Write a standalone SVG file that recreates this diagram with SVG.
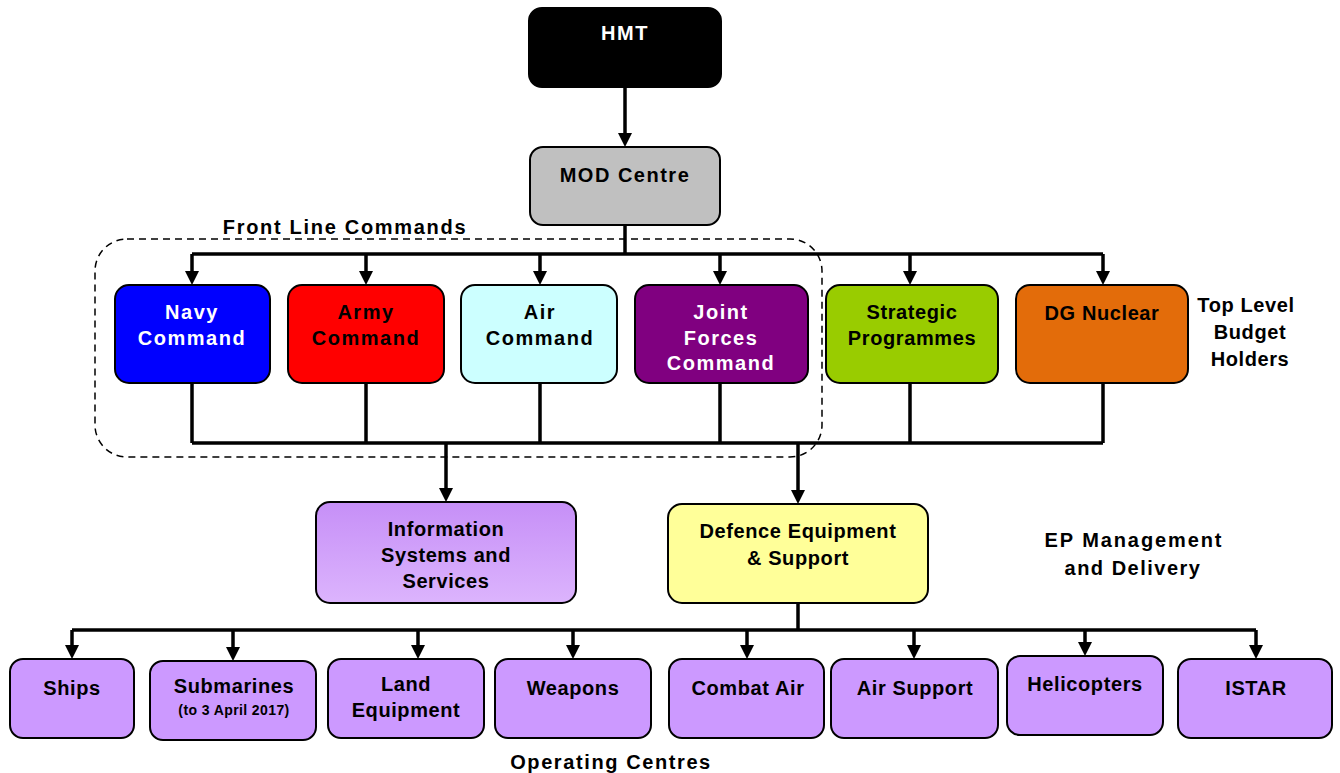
<svg xmlns="http://www.w3.org/2000/svg" width="1340" height="773" viewBox="0 0 1340 773">
<defs>
<marker id="ah" markerUnits="userSpaceOnUse" markerWidth="16" markerHeight="14" refX="2" refY="7" orient="auto">
<path d="M0,0 L14,7 L0,14 z" fill="#000"/>
</marker>
<linearGradient id="issg" x1="0" y1="0" x2="0" y2="1">
<stop offset="0" stop-color="#c68ff7"/>
<stop offset="1" stop-color="#dcb4fd"/>
</linearGradient>
</defs>
<style>
.box{stroke:#000;stroke-width:2}
.t{font-family:"Liberation Sans",Arial,sans-serif;font-weight:bold;font-size:20px;text-anchor:middle;letter-spacing:1.5px}
.n{letter-spacing:0.6px}
.w{fill:#fff}
.s{font-size:14px;letter-spacing:0.4px}
.c{fill:none;stroke:#000;stroke-width:3.5}
.a{marker-end:url(#ah)}
.dash{fill:none;stroke:#000;stroke-width:1.5;stroke-dasharray:7,5}
</style>
<rect class="dash" x="95" y="239" width="727" height="218" rx="32"/>
<g id="connectors">
<path class="c a" d="M625,87 V135"/>
<path class="c" d="M625,225 V254"/>
<path class="c" d="M192,254 H1103"/>
<path class="c a" d="M192,254 V273"/>
<path class="c a" d="M366,254 V273"/>
<path class="c a" d="M540,254 V273"/>
<path class="c a" d="M720,254 V273"/>
<path class="c a" d="M910,254 V273"/>
<path class="c a" d="M1103,254 V273"/>
<path class="c" d="M192,383 V443 M366,383 V443 M540,383 V443 M720,383 V443 M910,383 V443 M1103,383 V443"/>
<path class="c" d="M192,443 H1103"/>
<path class="c a" d="M446,443 V490"/>
<path class="c a" d="M798,443 V492"/>
<path class="c" d="M798,603 V630"/>
<path class="c" d="M72,630 H1256"/>
<path class="c a" d="M72,630 V647"/>
<path class="c a" d="M233,630 V649"/>
<path class="c a" d="M418,630 V647"/>
<path class="c a" d="M573,630 V647"/>
<path class="c a" d="M747,630 V647"/>
<path class="c a" d="M914,630 V647"/>
<path class="c a" d="M1085,630 V644"/>
<path class="c a" d="M1256,630 V647"/>
</g>
<g id="hmt"><rect class="box" x="529" y="8" width="192" height="79" rx="13" fill="#000"/><text class="t w" x="625" y="40">HMT</text></g>
<g id="mod"><rect class="box" x="530" y="147" width="190" height="78" rx="13" fill="#c0c0c0"/><text class="t" x="625" y="182">MOD Centre</text></g>
<g id="navy"><rect class="box" x="115" y="285" width="155" height="98" rx="14" fill="#0000ff"/><text class="t w" x="192" y="319">Navy</text><text class="t w" x="192" y="345">Command</text></g>
<g id="army"><rect class="box" x="288" y="285" width="156" height="98" rx="14" fill="#ff0000"/><text class="t" x="366" y="319">Army</text><text class="t" x="366" y="345">Command</text></g>
<g id="air"><rect class="box" x="461" y="285" width="156" height="98" rx="14" fill="#ccffff"/><text class="t" x="540" y="319">Air</text><text class="t" x="540" y="345">Command</text></g>
<g id="joint"><rect class="box" x="635" y="285" width="173" height="98" rx="14" fill="#800080"/><text class="t w" x="721" y="319">Joint</text><text class="t w" x="721" y="345">Forces</text><text class="t w" x="721" y="370">Command</text></g>
<g id="strategic"><rect class="box" x="826" y="285" width="172" height="98" rx="14" fill="#99cc00"/><text class="t n" x="912" y="319">Strategic</text><text class="t n" x="912" y="345">Programmes</text></g>
<g id="dgnuclear"><rect class="box" x="1016" y="285" width="172" height="98" rx="14" fill="#e36c0a"/><text class="t n" x="1102" y="320">DG Nuclear</text></g>
<g id="iss"><rect class="box" x="316" y="502" width="260" height="101" rx="14" fill="url(#issg)"/><text class="t n" x="446" y="536">Information</text><text class="t n" x="446" y="562">Systems and</text><text class="t n" x="446" y="588">Services</text></g>
<g id="des"><rect class="box" x="668" y="504" width="260" height="99" rx="14" fill="#ffff99"/><text class="t n" x="798" y="538">Defence Equipment</text><text class="t n" x="798" y="565">&amp; Support</text></g>
<g id="ships"><rect class="box" x="10" y="659" width="124" height="79" rx="13" fill="#cc99ff"/><text class="t n" x="72" y="695">Ships</text></g>
<g id="submarines"><rect class="box" x="150" y="661" width="166" height="79" rx="13" fill="#cc99ff"/><text class="t n" x="234" y="693">Submarines</text><text class="t s" x="234" y="715">(to 3 April  2017)</text></g>
<g id="land"><rect class="box" x="328" y="659" width="156" height="79" rx="13" fill="#cc99ff"/><text class="t n" x="406" y="691">Land</text><text class="t n" x="406" y="717">Equipment</text></g>
<g id="weapons"><rect class="box" x="495" y="659" width="156" height="79" rx="13" fill="#cc99ff"/><text class="t n" x="573" y="695">Weapons</text></g>
<g id="combatair"><rect class="box" x="669" y="659" width="155" height="79" rx="13" fill="#cc99ff"/><text class="t n" x="748" y="695">Combat Air</text></g>
<g id="airsupport"><rect class="box" x="831" y="659" width="167" height="79" rx="13" fill="#cc99ff"/><text class="t n" x="915" y="695">Air Support</text></g>
<g id="helicopters"><rect class="box" x="1007" y="656" width="156" height="79" rx="13" fill="#cc99ff"/><text class="t n" x="1085" y="691">Helicopters</text></g>
<g id="istar"><rect class="box" x="1178" y="659" width="154" height="79" rx="13" fill="#cc99ff"/><text class="t n" x="1256" y="695">ISTAR</text></g>
<g id="labels">
<text class="t" x="345" y="234" style="letter-spacing:1.7px">Front Line Commands</text>
<text class="t n" x="1246" y="312">Top Level</text>
<text class="t n" x="1250" y="339">Budget</text>
<text class="t n" x="1250" y="366">Holders</text>
<text class="t" x="1134" y="547" style="letter-spacing:1.9px">EP Management</text>
<text class="t" x="1133" y="575" style="letter-spacing:1.5px">and Delivery</text>
<text class="t" x="611" y="769" style="letter-spacing:1.6px">Operating Centres</text>
</g>
</svg>
